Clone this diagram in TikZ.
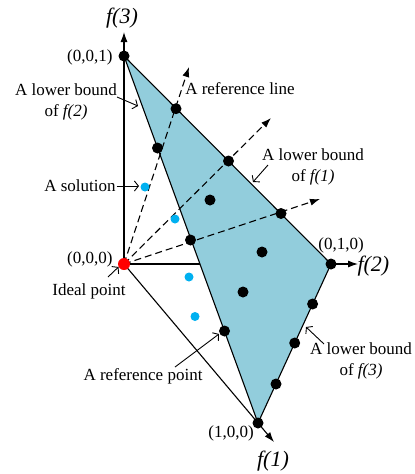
\documentclass[tikz,border=0pt]{standalone}
\usepackage{fontspec}
\setmainfont{Liberation Serif}
\usetikzlibrary{arrows.meta}
\definecolor{polyblue}{RGB}{146,205,220}
\definecolor{solblue}{RGB}{0,176,240}
\begin{document}
\begin{tikzpicture}[x=1pt,y=-1pt,
  line width=1.1pt,
  bdot/.style={circle,fill=black,inner sep=0pt,minimum size=11pt},
  sdot/.style={circle,fill=solblue,inner sep=0pt,minimum size=9pt},
  rdot/.style={circle,fill=red,inner sep=0pt,minimum size=12pt},
  txt/.style={font=\fontsize{17}{21}\selectfont, inner sep=0pt, align=center},
  axlab/.style={font=\fontsize{22}{24}\selectfont\itshape, inner sep=0pt},
  axarrow/.style={-{Latex[length=10pt,width=7pt]}},
  refline/.style={dash pattern=on 7pt off 4pt, -{Latex[length=10pt,width=7pt]}},
  note/.style={-{Straight Barb[length=4pt,width=10pt]}, line width=0.9pt}
]
\useasboundingbox (0,0) rectangle (415,474);
% key points
\coordinate (O) at (124,264);
\coordinate (V3) at (124,56);
\coordinate (V2) at (331,264);
\coordinate (V1) at (258,423);
\coordinate (f3tip) at (124,32);
\coordinate (f2tip) at (358,264);
\coordinate (f1tip) at (274,442);
\coordinate (r1tip) at (189,67);
\coordinate (r2tip) at (271,118);
\coordinate (r3tip) at (320,199);
% axes
\draw[axarrow] (O) -- (f3tip);
\draw[axarrow] (O) -- (f2tip);
\draw[axarrow] (O) -- (f1tip);
% plane
\filldraw[fill=polyblue, line join=round] (V3) -- (V2) -- (V1) -- cycle;
% reference lines
\draw[refline] (O) -- (r1tip);
\draw[refline] (O) -- (r2tip);
\draw[refline] (O) -- (r3tip);
% corner points
\node[bdot] (p001) at (V3) {};
\node[bdot] (p010) at (V2) {};
\node[bdot] (p100) at (V1) {};
\node[rdot] (ideal) at (O) {};
% reference points on edges
\node[bdot] (a1) at (176,108.7) {};
\node[bdot] (a2) at (228.5,161) {};
\node[bdot] (a3) at (281,213.5) {};
\node[bdot] (b1) at (157.5,148) {};
\node[bdot] (b2) at (190.5,240) {};
\node[bdot] (b3) at (224.5,331) {};
\node[bdot] (c1) at (312.6,304) {};
\node[bdot] (c2) at (294.7,343) {};
\node[bdot] (c3) at (276,384) {};
% interior points
\node[bdot] (i1) at (210,200) {};
\node[bdot] (i2) at (262,252) {};
\node[bdot] (i3) at (243,292) {};
% solutions
\node[sdot] (s1) at (145,187) {};
\node[sdot] (s2) at (175,219) {};
\node[sdot] (s3) at (189,277) {};
\node[sdot] (s4) at (195,316.5) {};
% axis labels
\node[axlab] (lf3) at (122,18) {f(3)};
\node[axlab, anchor=west] (lf2) at (357,266) {f(2)};
\node[axlab] (lf1) at (273,461) {f(1)};
% coordinate labels
\node[txt, anchor=east] (t001) at (113,57) {(0,0,1)};
\node[txt, anchor=east] (t000) at (113,259) {(0,0,0)};
\node[txt] (t010) at (341,245) {(0,1,0)};
\node[txt] (t100) at (231,433) {(1,0,0)};
% annotations
\node[txt] (lb2) at (66,102) {A lower bound\\of \textit{f(2)}};
\node[txt] (lb1) at (313,167) {A lower bound\\of \textit{f(1)}};
\node[txt] (lb3) at (361,361) {A lower bound\\of \textit{f(3)}};
\node[txt] (rl) at (240,89) {A reference line};
\node[txt] (sol) at (80,186) {A solution};
\node[txt] (ip) at (89,291) {Ideal point};
\node[txt] (rp) at (143,376) {A reference point};
% annotation arrows
\coordinate (n2s) at (117,97);  \coordinate (n2e) at (138,106);
\coordinate (n1s) at (268,165); \coordinate (n1e) at (253,182);
\coordinate (nse) at (139,186);
\coordinate (nis) at (108,277); \coordinate (nie) at (118.5,267);
\coordinate (nrs) at (175,367); \coordinate (nre) at (219,334);
\coordinate (n3s) at (324,344); \coordinate (n3e) at (306,327);
\draw[note] (n2s) -- (n2e);
\draw[note] (n1s) -- (n1e);
\draw[note] ([xshift=0.5pt]sol.east) -- (nse);
\draw[note] (nis) -- (nie);
\draw[note] (nrs) -- (nre);
\draw[note] (n3s) -- (n3e);
\end{tikzpicture}
\end{document}
